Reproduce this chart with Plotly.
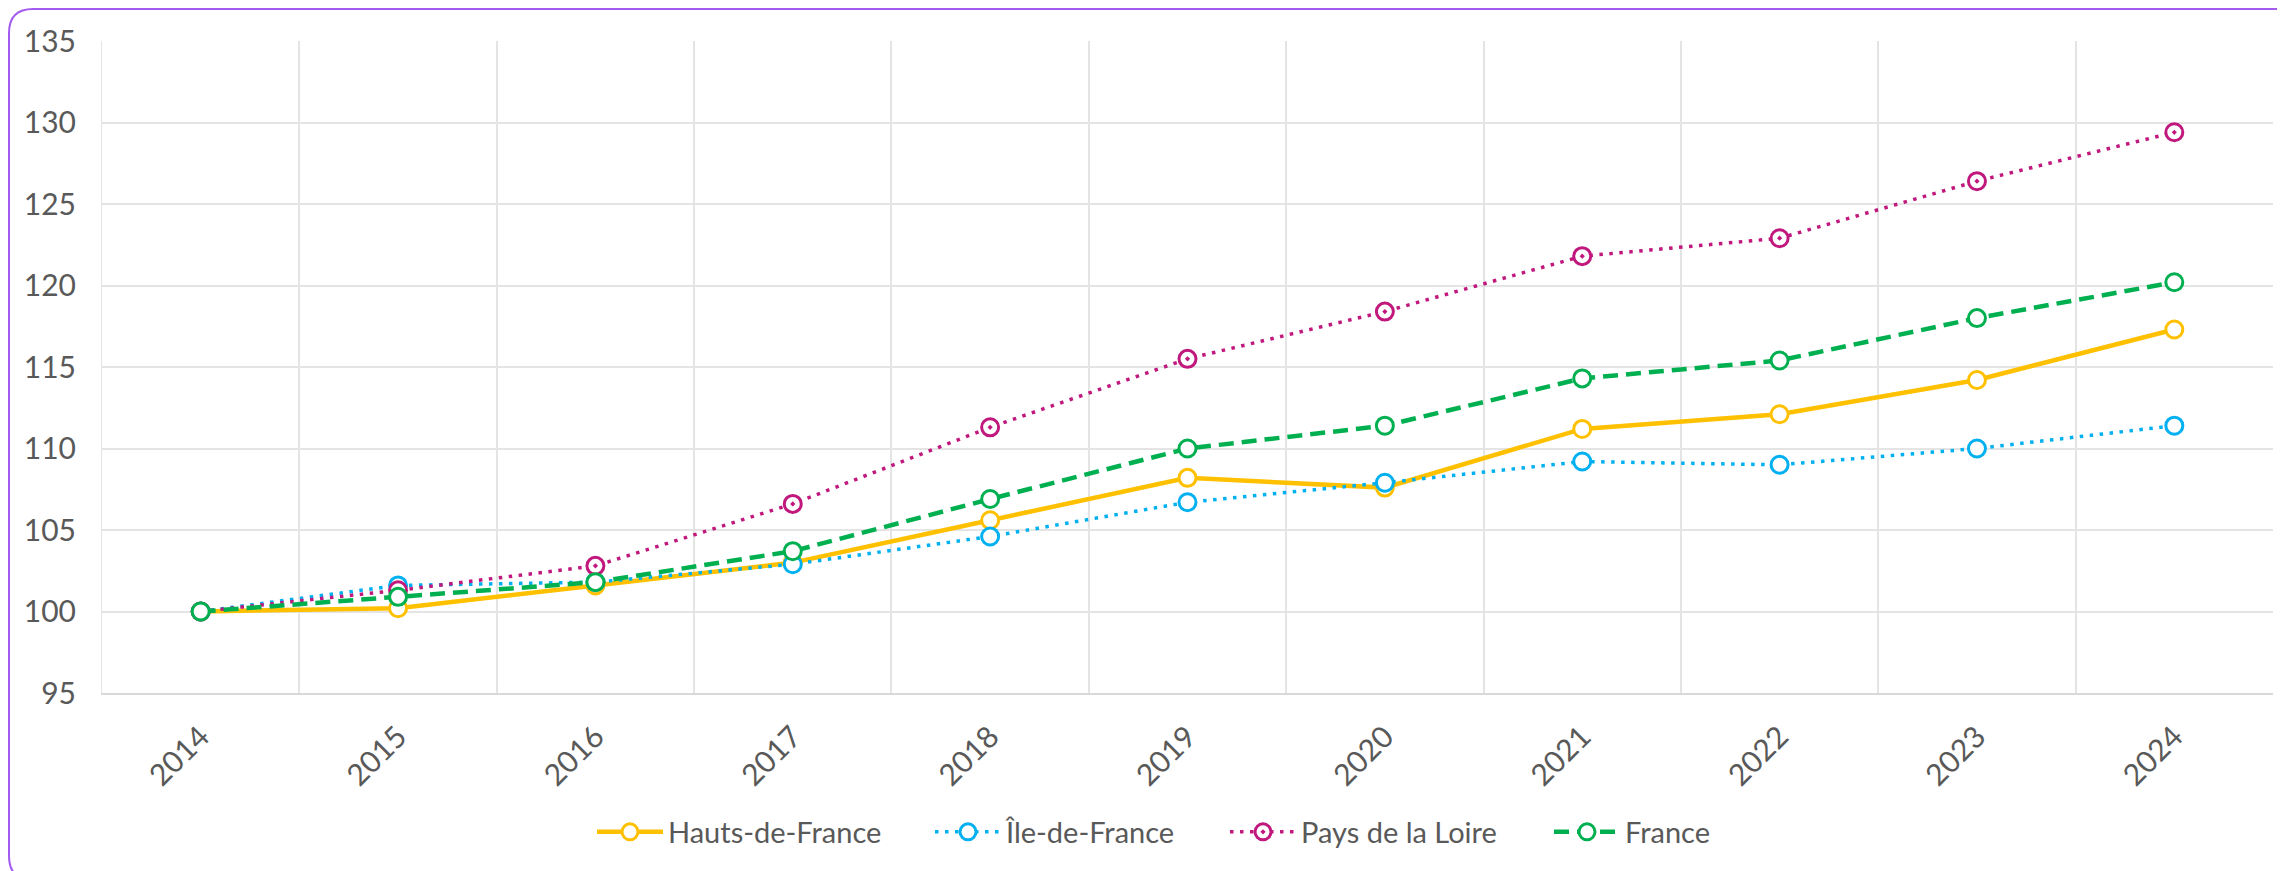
import plotly.graph_objects as go

years = ["2014", "2015", "2016", "2017", "2018", "2019", "2020", "2021", "2022", "2023", "2024"]

hauts_de_france = [100, 100.2, 101.6, 103.0, 105.6, 108.2, 107.6, 111.2, 112.1, 114.2, 117.3]
ile_de_france = [100, 101.6, 101.8, 102.9, 104.6, 106.7, 107.9, 109.2, 109.0, 110.0, 111.4]
pays_de_la_loire = [100, 101.3, 102.8, 106.6, 111.3, 115.5, 118.4, 121.8, 122.9, 126.4, 129.4]
france = [100, 100.9, 101.8, 103.7, 106.9, 110.0, 111.4, 114.3, 115.4, 118.0, 120.2]

y_ticks = [95, 100, 105, 110, 115, 120, 125, 130, 135]

TEXT = "#595959"
GRID = "#e4e4e4"
FONT = "Lato, Open Sans, sans-serif"

# the page body has an 8px margin, so the figure is drawn shifted by it
OFF = 8
W, H = 2285, 871
# target plot box on the page: x 102..2273, y 41..693
ML, MT = 102 - OFF, 41 - OFF
MR = W - (2273 - OFF)
MB = H - (693 - OFF)
PW, PH = W - ML - MR, H - MT - MB


def px_x(v):
    # page px -> paper x
    return (v - OFF - ML) / PW


def px_y(v):
    # page px -> paper y
    return (H - MB - (v - OFF)) / PH


# name, values, colour, dash, width, marker symbol, legend id, legend left (page px)
series = [
    ("Hauts-de-France", hauts_de_france, "#FFC000", "solid", 4.5, "circle", "legend", 592),
    ("Île-de-France", ile_de_france, "#00B0F0", "3.5px,6.5px", 3.5, "circle", "legend2", 930),
    ("Pays de la Loire", pays_de_la_loire, "#C0187D", "3.5px,6.5px", 3.5, "circle-dot", "legend3", 1225),
    ("France", france, "#00B050", "15px,8px", 4.5, "circle", "legend4", 1549),
]

fig = go.Figure()
legends = {}
for name, vals, color, dash, lw, sym, leg, lx in series:
    fig.add_trace(go.Scatter(
        x=years, y=vals, name=name, mode="lines+markers", legend=leg,
        line=dict(color=color, width=lw, dash=dash),
        marker=dict(symbol=sym, size=17, color="white", line=dict(color=color, width=3)),
    ))
    legends[leg] = dict(
        orientation="h", x=px_x(lx), xanchor="left", y=px_y(832), yanchor="middle",
        font=dict(size=29, color=TEXT), itemwidth=66, bgcolor="rgba(0,0,0,0)",
    )

# rounded purple frame around the whole chart
x0, x1, y0, y1, r = 9, 2300, 9, 880, 24
path = (
    f"M {px_x(x0 + r)} {px_y(y0)} L {px_x(x1 - r)} {px_y(y0)} "
    f"Q {px_x(x1)} {px_y(y0)} {px_x(x1)} {px_y(y0 + r)} "
    f"L {px_x(x1)} {px_y(y1 - r)} Q {px_x(x1)} {px_y(y1)} {px_x(x1 - r)} {px_y(y1)} "
    f"L {px_x(x0 + r)} {px_y(y1)} Q {px_x(x0)} {px_y(y1)} {px_x(x0)} {px_y(y1 - r)} "
    f"L {px_x(x0)} {px_y(y0 + r)} Q {px_x(x0)} {px_y(y0)} {px_x(x0 + r)} {px_y(y0)} Z"
)
fig.add_shape(type="path", path=path, xref="paper", yref="paper",
              line=dict(color="#A45CF0", width=2), fillcolor="rgba(0,0,0,0)", layer="above")

fig.update_layout(
    width=W, height=H,
    margin=dict(l=ML, r=MR, t=MT, b=MB, autoexpand=False),
    paper_bgcolor="white", plot_bgcolor="white",
    font=dict(family=FONT, size=29, color=TEXT),
    showlegend=True,
    **legends,
)
fig.update_xaxes(
    type="category", tickson="boundaries", range=[-0.5, 10.5], showgrid=True,
    gridcolor=GRID, gridwidth=1.5, showline=True, linecolor="#d9d9d9", linewidth=2,
    tickangle=-45, ticks="", ticklabelstandoff=12, tickfont=dict(size=30, color=TEXT),
    automargin=False,
)
fig.update_yaxes(
    range=[95, 135], tickvals=y_ticks, showgrid=True, gridcolor=GRID, gridwidth=1.5,
    zeroline=False, showline=True, linecolor=GRID, ticks="",
    ticklabelstandoff=19, tickfont=dict(size=30, color=TEXT), automargin=False,
)

fig.write_html("out.html")
